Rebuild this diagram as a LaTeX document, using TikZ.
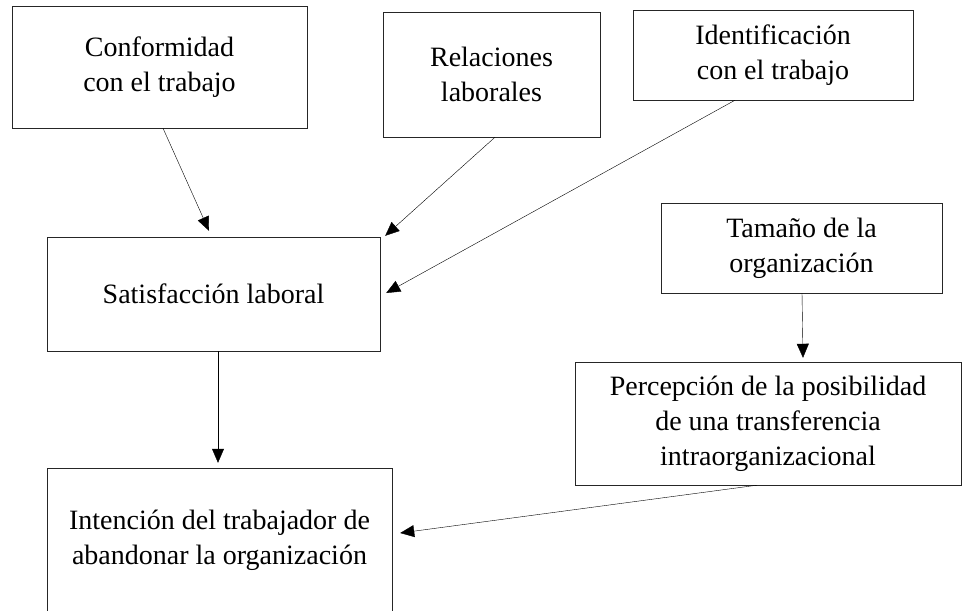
\documentclass[tikz,border=0pt]{standalone}
\usepackage{fontspec}
\setmainfont{Liberation Serif}
\usetikzlibrary{positioning, arrows.meta}
\tikzset{>={Triangle[length=14pt, width=12pt]}, line width=0.8pt}
\tikzset{box/.style={draw=black!85, rectangle, align=center, inner sep=0pt,
    font=\fontsize{28}{35}\selectfont}}

\begin{document}
\begin{tikzpicture}[x=1pt, y=-1pt]
    \useasboundingbox (0,0) rectangle (963,610);
    \node[box, minimum width=295pt, minimum height=122pt] (conf) at (159.5,67) {Conformidad\\con el trabajo};
    \node[box, minimum width=217pt, minimum height=125pt] (rel) at (491.5,74.5) {Relaciones\\laborales};
    \node[box, minimum width=280pt, minimum height=90pt] (iden) at (773,55) {Identificación\\con el trabajo};
    \node[box, minimum width=333pt, minimum height=114pt] (sat) at (213.5,294) {Satisfacción laboral};
    \node[box, minimum width=281pt, minimum height=90pt] (tam) at (801.5,248) {Tamaño de la\\organización};
    \node[box, minimum width=386pt, minimum height=123pt] (perc) at (768,423.5) {Percepción de la posibilidad\\de una transferencia\\intraorganizacional};
    \node[box, minimum width=345pt, minimum height=144pt] (int) at (219.5,540) {Intención del trabajador de\\abandonar la organización};
    \draw[->] ([xshift=3.5pt]conf.south) -- ([xshift=-4.5pt, yshift=6pt]sat.north);
    \draw[->] ([xshift=3.5pt]rel.south) -- ([xshift=5pt, yshift=1pt]sat.north east);
    \draw[->] ([xshift=-38pt]iden.south) -- ([xshift=6pt, yshift=1pt]sat.east);
    \draw[->] ([xshift=4.5pt]sat.south) -- ([xshift=-1.5pt, yshift=5pt]int.north);
    \draw[->] ([xshift=0.5pt]tam.south) -- ([xshift=35pt, yshift=4pt]perc.north);
    \draw[->] ([xshift=-11pt]perc.south) -- ([xshift=8pt, yshift=7pt]int.east);
\end{tikzpicture}
\end{document}
